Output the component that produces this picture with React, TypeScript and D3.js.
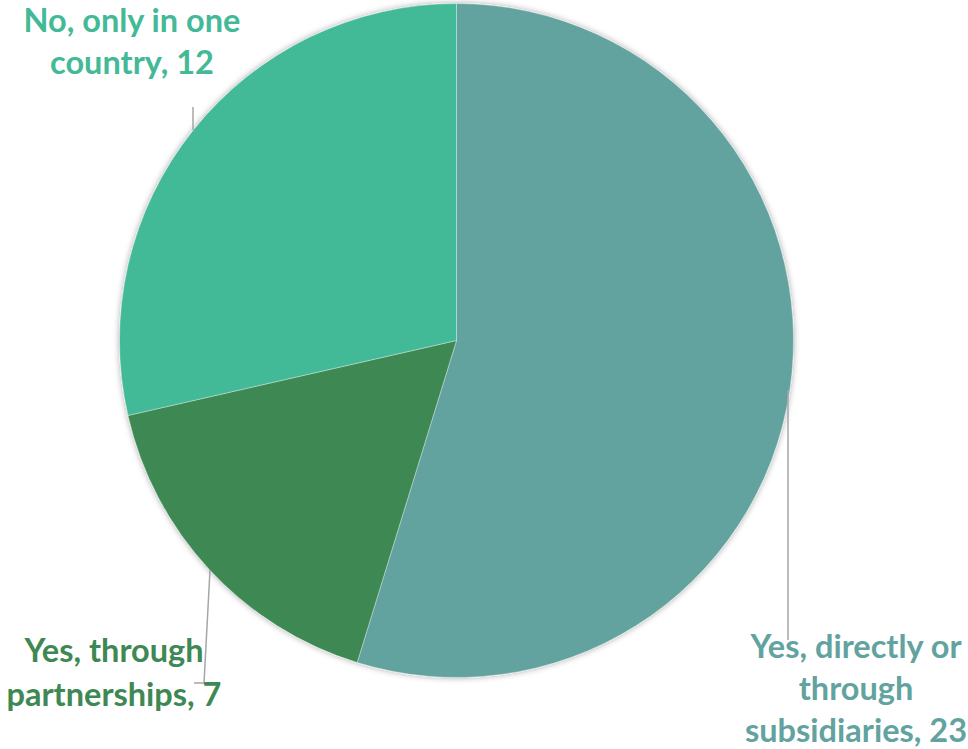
import React from "react";
import * as d3 from "d3";

const categories = ["Yes, directly or through subsidiaries", "Yes, through partnerships", "No, only in one country"];
const values = [23, 7, 12];
const colors = ["#62A39F", "#3E8853", "#43B997"];
const labelLines = [
  ["Yes, directly or", "through", "subsidiaries, 23"],
  ["Yes, through", "partnerships, 7"],
  ["No, only in one", "country, 12"],
];

const W = 968, H = 749;
const cx = 456.5, cy = 340.5, R = 337;

// label layout: center x, first baseline y, line height
const labelPos = [
  { x: 856, y: 658, lh: 42 },
  { x: 114, y: 662, lh: 44 },
  { x: 132, y: 32, lh: 42 },
];
// leader lines (label end point + optional elbow)
const leaders = [
  [[788, 640], [788, 390]],
  [[194, 683], [204, 683], [210, 570]],
  [[193, 107], [193, 130]],
];

export default function App() {
  const data = categories.map((c, i) => ({ c, v: values[i], i }));
  const pie = d3.pie<any>().value((d) => d.v).sort(null);
  const arcs = pie(data);
  const arcGen = d3.arc<any>().innerRadius(0).outerRadius(R);
  const line = d3.line();
  return (
    <svg width={W} height={H} style={{ position: "absolute", left: 0, top: 0 }}>
      <defs>
        <filter id="sh" x="-10%" y="-10%" width="120%" height="120%">
          <feDropShadow dx="0" dy="0" stdDeviation="3" floodColor="#000" floodOpacity="0.35" />
        </filter>
      </defs>
      <g transform={`translate(${cx},${cy})`} filter="url(#sh)">
        {arcs.map((a, i) => (
          <path key={i} d={arcGen(a) as string} fill={colors[i]} stroke="#ffffff" strokeOpacity={0.35} strokeWidth={1} />
        ))}
      </g>
      {leaders.map((pts, i) => (
        <path key={i} d={line(pts as any) as string} fill="none" stroke="#A6A6A6" strokeWidth={1.5} />
      ))}
      {labelLines.map((lines, i) => (
        <text
          key={i}
          textAnchor="middle"
          fill={colors[i]}
          style={{ fontFamily: "Lato, 'Open Sans', sans-serif", fontWeight: 700, fontSize: 32.5 }}
        >
          {lines.map((t, j) => (
            <tspan key={j} x={labelPos[i].x} y={labelPos[i].y + j * labelPos[i].lh}>
              {t}
            </tspan>
          ))}
        </text>
      ))}
    </svg>
  );
}
